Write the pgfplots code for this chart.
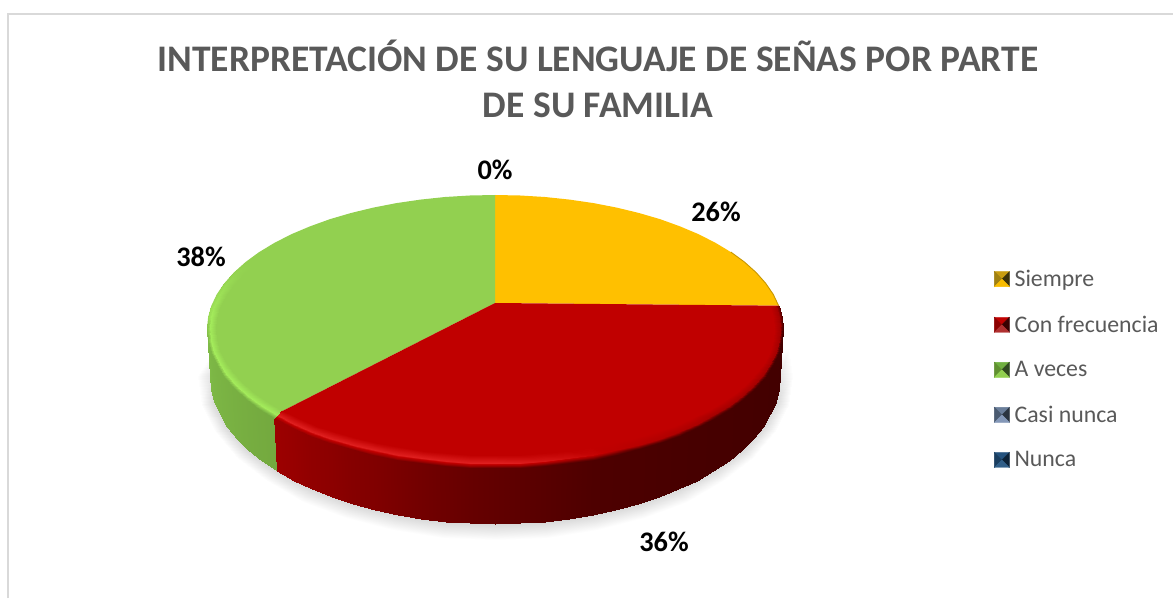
\documentclass[border=0pt]{standalone}
\usepackage{fontspec}
\setmainfont{Carlito}
\usepackage{pgfplots}
\pgfplotsset{compat=1.18}
\definecolor{txt}{HTML}{595959}
\definecolor{frame}{HTML}{D9D9D9}
\definecolor{yface}{HTML}{FFC000}
\definecolor{rface}{HTML}{C00000}
\definecolor{gface}{HTML}{92D050}

\pgfplotsset{
  colormap={sidered}{rgb255(0)=(66,0,0) rgb255(20)=(78,0,0) rgb255(40)=(110,0,0) rgb255(60)=(156,0,0) rgb255(80)=(192,0,0) rgb255(100)=(240,48,48)},
  colormap={sidegreen}{rgb255(0)=(115,168,62) rgb255(33)=(128,188,72) rgb255(66)=(146,208,80) rgb255(100)=(165,238,92)},
  colormap={shade}{rgb255(0)=(255,255,255) rgb255(100)=(216,216,216)},
}

% bevelled legend key: top, left, right, bottom
\newcommand{\legkey}[4]{\addlegendimage{legend image code/.code={
  \fill[color=#1] (0pt,7.5pt) -- (15pt,7.5pt) -- (7.5pt,0pt) -- cycle;
  \fill[color=#2] (0pt,7.5pt) -- (0pt,-7.5pt) -- (7.5pt,0pt) -- cycle;
  \fill[color=#3] (15pt,7.5pt) -- (15pt,-7.5pt) -- (7.5pt,0pt) -- cycle;
  \fill[color=#4] (0pt,-7.5pt) -- (15pt,-7.5pt) -- (7.5pt,0pt) -- cycle;
}}}
\definecolor{ka1}{HTML}{C89C10}\definecolor{ka2}{HTML}{A08010}\definecolor{ka3}{HTML}{3C3208}\definecolor{ka4}{HTML}{F8BC00}
\definecolor{kb1}{HTML}{C00000}\definecolor{kb2}{HTML}{8C0000}\definecolor{kb3}{HTML}{380000}\definecolor{kb4}{HTML}{B03030}
\definecolor{kc1}{HTML}{70B040}\definecolor{kc2}{HTML}{609030}\definecolor{kc3}{HTML}{304A20}\definecolor{kc4}{HTML}{92D050}
\definecolor{kd1}{HTML}{6A7E9A}\definecolor{kd2}{HTML}{4A5A70}\definecolor{kd3}{HTML}{2A3440}\definecolor{kd4}{HTML}{8498B8}
\definecolor{ke1}{HTML}{24527E}\definecolor{ke2}{HTML}{1A3E60}\definecolor{ke3}{HTML}{0C2238}\definecolor{ke4}{HTML}{305E88}

\begin{document}
\begin{tikzpicture}
\begin{axis}[
    scale only axis,
    width=1173pt,
    height=598pt,
    xmin=0, xmax=1173,
    ymin=0, ymax=598,
    hide axis,
    point meta min=0,
    point meta max=1,
    legend style={draw=none, fill=none, at={(axis cs:991,330)}, anchor=north west,
      font=\fontsize{23.8}{26}\selectfont, text=txt, row sep=27.75pt, column sep=5pt,
      nodes={inner sep=0pt, outer sep=0pt}},
    legend cell align=left,
]

% chart frame
\addplot[frame, line width=1.5pt, forget plot] coordinates {(8,0)(8,584)(1173,584)};

% soft shadow under the pie
\addplot[surf, shader=interp, colormap name=shade, mesh/cols=2, point meta=explicit, forget plot] coordinates {
(775.7,247.7)[0] (788.5,250.5)[0]
(780,222)[0.7] (793,222)[0]
(775.7,196.3)[1] (788.5,193.5)[0]
(762.8,171.4)[1] (775,165.9)[0]
(741.8,148)[1] (753.1,140)[0]
(713.3,126.9)[1] (723.3,116.6)[0]
(678.2,108.6)[1] (686.6,96.4)[0]
(637.5,93.8)[1] (644,80)[0]
(592.5,82.9)[1] (596.9,67.9)[0]
(544.5,76.2)[1] (546.7,60.5)[0]
(495,74)[1] (495,58)[0]
(445.5,76.2)[1] (443.3,60.5)[0]
(397.5,82.9)[1] (393.1,67.9)[0]
(352.5,93.8)[1] (346,80)[0]
(311.8,108.6)[1] (303.4,96.4)[0]
(276.7,126.9)[1] (266.7,116.6)[0]
(248.2,148)[1] (236.9,140)[0]
(227.2,171.4)[1] (215,165.9)[0]
(214.3,196.3)[1] (201.5,193.5)[0]
(210,222)[0.7] (197,222)[0]
(214.3,247.7)[0] (201.5,250.5)[0]
};

% side wall, A veces
\addplot[surf, shader=interp, colormap name=sidegreen, mesh/cols=2, point meta=explicit, forget plot] coordinates {
(274.4,182.9)[0.02] (276.7,126.9)[0.02]
(259.1,192.1)[0.05] (261.5,137.1)[0.05]
(245.6,202)[0.09] (248.2,148)[0.09]
(234,212.4)[0.13] (236.7,159.5)[0.13]
(224.4,223.2)[0.17] (227.2,171.4)[0.17]
(216.8,234.3)[0.2] (219.7,183.7)[0.2]
(211.4,245.7)[0.24] (214.3,196.3)[0.24]
(208.1,257.3)[0.28] (211.1,209.1)[0.28]
(207,269)[0.3] (210,222)[0.3]
};

% side wall, Con frecuencia
\addplot[surf, shader=interp, colormap name=sidered, mesh/cols=2, point meta=explicit, forget plot] coordinates {
(783,269)[0] (780,222)[0]
(781.9,257.3)[0] (778.9,209.1)[0]
(778.6,245.7)[0.01] (775.7,196.3)[0.01]
(773.2,234.3)[0.02] (770.3,183.7)[0.02]
(765.6,223.2)[0.03] (762.8,171.4)[0.03]
(756,212.4)[0.04] (753.3,159.5)[0.04]
(744.4,202)[0.05] (741.8,148)[0.05]
(730.9,192.1)[0.06] (728.5,137.1)[0.06]
(715.6,182.9)[0.07] (713.3,126.9)[0.07]
(698.6,174.2)[0.08] (696.5,117.3)[0.08]
(680.1,166.4)[0.1] (678.2,108.6)[0.1]
(660.2,159.2)[0.12] (658.5,100.8)[0.12]
(639,153)[0.15] (637.5,93.8)[0.15]
(616.7,147.6)[0.17] (615.4,87.9)[0.17]
(593.5,143.1)[0.2] (592.5,82.9)[0.2]
(569.5,139.6)[0.23] (568.8,79)[0.23]
(545,137)[0.26] (544.5,76.2)[0.26]
(520.1,135.5)[0.29] (519.8,74.6)[0.29]
(495,135)[0.32] (495,74)[0.32]
(469.9,135.5)[0.35] (470.2,74.6)[0.35]
(445,137)[0.39] (445.5,76.2)[0.39]
(420.5,139.6)[0.42] (421.2,79)[0.42]
(396.5,143.1)[0.45] (397.5,82.9)[0.45]
(373.3,147.6)[0.48] (374.6,87.9)[0.48]
(351,153)[0.5] (352.5,93.8)[0.5]
(329.8,159.2)[0.53] (331.5,100.8)[0.53]
(309.9,166.4)[0.55] (311.8,108.6)[0.55]
(291.4,174.2)[0.58] (293.5,117.3)[0.58]
(274.4,182.9)[0.6] (276.7,126.9)[0.6]
};

% top face, Siempre
\addplot[fill=yface, draw=none, forget plot] coordinates {
(495,295)(495,403)(520.1,402.5)(545,401)(569.5,398.4)(593.5,394.9)(616.7,390.4)(639,385)
(660.2,378.8)(680.1,371.6)(698.6,363.8)(715.6,355.1)(730.9,345.9)(744.4,336)(756,325.6)
(765.6,314.8)(773.2,303.7)(778.6,292.3)
} -- cycle;
\addplot[color=black!22!yface, line width=0.9pt, forget plot] coordinates {
(730.9,345.9)(744.4,336)(756,325.6)(765.6,314.8)(773.2,303.7)(778.6,292.3)
};

% top face, A veces
\addplot[fill=gface, draw=none, forget plot] coordinates {
(495,295)(274.4,182.9)(259.1,192.1)(245.6,202)(234,212.4)(224.4,223.2)(216.8,234.3)(211.4,245.7)
(208.1,257.3)(207,269)(208.1,280.7)(211.4,292.3)(216.8,303.7)(224.4,314.8)(234,325.6)(245.6,336)
(259.1,345.9)(274.4,355.1)(291.4,363.8)(309.9,371.6)(329.8,378.8)(351,385)(373.3,390.4)
(396.5,394.9)(420.5,398.4)(445,401)(469.9,402.5)(495,403)
} -- cycle;

% top face, Con frecuencia
\addplot[fill=rface, draw=none, forget plot] coordinates {
(495,295)(778.6,292.3)(781.9,280.7)(783,269)(781.9,257.3)(778.6,245.7)(773.2,234.3)(765.6,223.2)
(756,212.4)(744.4,202)(730.9,192.1)(715.6,182.9)(698.6,174.2)(680.1,166.4)(660.2,159.2)(639,153)
(616.7,147.6)(593.5,143.1)(569.5,139.6)(545,137)(520.1,135.5)(495,135)(469.9,135.5)(445,137)
(420.5,139.6)(396.5,143.1)(373.3,147.6)(351,153)(329.8,159.2)(309.9,166.4)(291.4,174.2)(274.4,182.9)
} -- cycle;

% bevel on the rim, Con frecuencia
\addplot[surf, shader=interp, colormap name=sidered, mesh/cols=3, point meta=explicit, forget plot] coordinates {
(769.8,290.9)[0.8] (775.7,292.3)[0.65] (778.6,292.3)[0.35]
(772.9,280)[0.8] (778.9,280.7)[0.65] (781.9,280.7)[0.25]
(774,269)[0.8] (780,269)[0.65] (783,269)[0.1]
(772.9,258)[0.8] (778.9,257.3)[0.65] (781.9,256.9)[0]
(769.8,247.1)[0.8] (775.7,245.7)[0.65] (778.6,244.9)[0.01]
(764.5,236.4)[0.8] (770.3,234.3)[0.65] (773.2,233)[0.02]
(757.2,225.9)[0.8] (762.8,223.2)[0.65] (765.6,221.5)[0.03]
(747.9,215.8)[0.8] (753.3,212.4)[0.65] (756,210.3)[0.04]
(736.6,206)[0.8] (741.8,202)[0.65] (744.4,199.5)[0.05]
(723.6,196.7)[0.8] (728.5,192.1)[0.65] (730.9,189.3)[0.06]
(708.7,188)[0.8] (713.3,182.9)[0.65] (715.6,179.7)[0.07]
(692.3,179.9)[0.8] (696.5,174.2)[0.68] (698.6,170.7)[0.08]
(674.3,172.5)[0.8] (678.2,166.4)[0.7] (680.1,162.5)[0.1]
(655,165.8)[0.8] (658.5,159.2)[0.72] (660.2,155.1)[0.12]
(634.5,159.9)[0.8] (637.5,153)[0.75] (639,148.6)[0.15]
(612.9,154.8)[0.8] (615.4,147.6)[0.78] (616.7,143)[0.17]
(590.4,150.6)[0.8] (592.5,143.1)[0.82] (593.5,138.4)[0.2]
(567.2,147.3)[0.8] (568.8,139.6)[0.86] (569.5,134.7)[0.23]
(543.4,144.9)[0.8] (544.5,137)[0.89] (545,132.1)[0.26]
(519.3,143.5)[0.8] (519.8,135.5)[0.92] (520.1,130.5)[0.29]
(495,143)[0.8] (495,135)[0.93] (495,130)[0.32]
(470.7,143.5)[0.8] (470.2,135.5)[0.93] (469.9,130.5)[0.35]
(446.6,144.9)[0.8] (445.5,137)[0.93] (445,132.1)[0.39]
(422.8,147.3)[0.8] (421.2,139.6)[0.93] (420.5,134.7)[0.42]
(399.6,150.6)[0.8] (397.5,143.1)[0.93] (396.5,138.4)[0.45]
(377.1,154.8)[0.8] (374.6,147.6)[0.93] (373.3,143)[0.48]
(355.5,159.9)[0.8] (352.5,153)[0.93] (351,148.6)[0.5]
(335,165.8)[0.8] (331.5,159.2)[0.93] (329.8,155.1)[0.53]
(315.7,172.5)[0.8] (311.8,166.4)[0.93] (309.9,162.5)[0.55]
(297.7,179.9)[0.8] (293.5,174.2)[0.93] (291.4,170.7)[0.58]
(281.3,188)[0.8] (276.7,182.9)[0.93] (274.4,179.7)[0.6]
};

% bevel on the rim, A veces
\addplot[surf, shader=interp, colormap name=sidegreen, mesh/cols=3, point meta=explicit, forget plot] coordinates {
(281.3,188)[0.66] (276.7,182.9)[0.97] (274.4,179.7)[0.05]
(266.4,196.7)[0.66] (261.5,192.1)[0.97] (259.1,189.3)[0.08]
(253.4,206)[0.66] (248.2,202)[0.97] (245.6,199.5)[0.12]
(242.1,215.8)[0.66] (236.7,212.4)[0.97] (234,210.3)[0.16]
(232.8,225.9)[0.66] (227.2,223.2)[0.97] (224.4,221.5)[0.2]
(225.5,236.4)[0.66] (219.7,234.3)[0.97] (216.8,233)[0.24]
(220.2,247.1)[0.66] (214.3,245.7)[0.97] (211.4,244.9)[0.28]
(217.1,258)[0.66] (211.1,257.3)[0.97] (208.1,256.9)[0.32]
(216,269)[0.66] (210,269)[0.97] (207,269)[0.45]
(217.1,280)[0.66] (211.1,280.7)[0.97] (208.1,280.7)[0.8]
(220.2,290.9)[0.66] (214.3,292.3)[0.9] (211.4,292.3)[0.8]
(225.5,301.6)[0.66] (219.7,303.7)[0.85] (216.8,303.7)[0.78]
(232.8,312.1)[0.66] (227.2,314.8)[0.78] (224.4,314.8)[0.72]
(242.1,322.2)[0.66] (236.7,325.6)[0.7] (234,325.6)[0.68]
(253.4,332)[0.66] (248.2,336)[0.66] (245.6,336)[0.66]
};

% data labels
\node[font=\fontsize{28.3}{30}\selectfont\bfseries, text=black] at (axis cs:495,428) {0\%};
\node[font=\fontsize{28.3}{30}\selectfont\bfseries, text=black] at (axis cs:716,386) {26\%};
\node[font=\fontsize{28.3}{30}\selectfont\bfseries, text=black] at (axis cs:201,341) {38\%};
\node[font=\fontsize{28.3}{30}\selectfont\bfseries, text=black] at (axis cs:664,56) {36\%};

% title
\node[font=\fontsize{37.5}{46}\selectfont\bfseries, text=txt, align=center] at (axis cs:598,519)
  {INTERPRETACIÓN DE SU LENGUAJE DE SEÑAS POR PARTE\\DE SU FAMILIA};

% legend
\legkey{ka1}{ka2}{ka3}{ka4}
\legkey{kb1}{kb2}{kb3}{kb4}
\legkey{kc1}{kc2}{kc3}{kc4}
\legkey{kd1}{kd2}{kd3}{kd4}
\legkey{ke1}{ke2}{ke3}{ke4}
\legend{Siempre,Con frecuencia,A veces,Casi nunca,Nunca}
\end{axis}
\path[use as bounding box] (0,0) rectangle (1173pt,598pt);
\end{tikzpicture}
\end{document}
